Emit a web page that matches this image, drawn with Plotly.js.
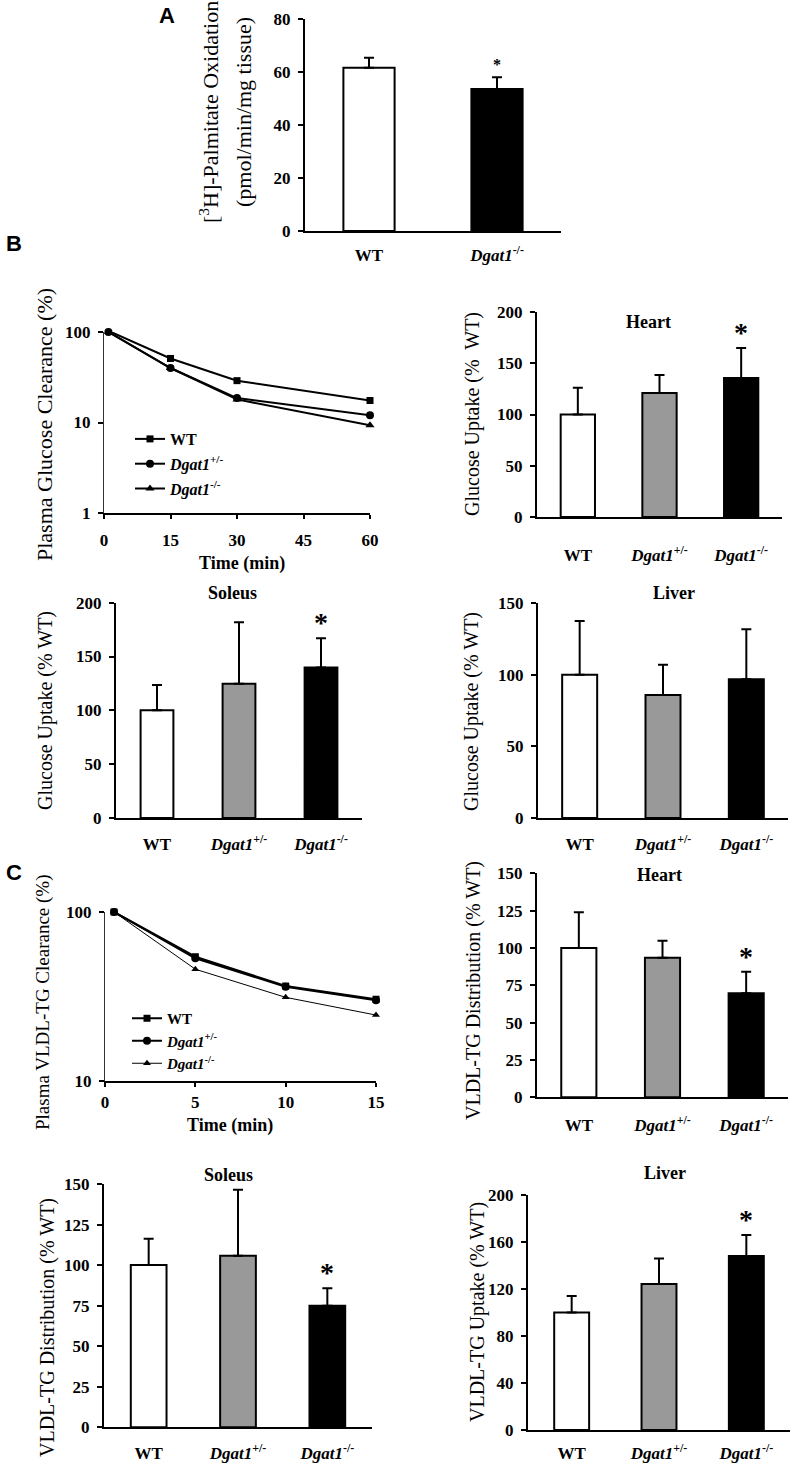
<!DOCTYPE html>
<html>
<head>
<meta charset="utf-8">
<script src="https://cdn.plot.ly/plotly-3.0.1.min.js"></script>
<style>
  body { margin: 0; background: #fff; }
  #plot { width: 797px; height: 1466px; }
</style>
</head>
<body>
<div id="plot"></div>
<script>
// ---- data ----
const genoCats = ['WT', 'Dgat1+/-', 'Dgat1-/-'];
const genoText = ['WT', '<i>Dgat1</i><sup>+/-</sup>', '<i>Dgat1</i><sup>-/-</sup>'];
const palmCats = ['WT', 'Dgat1-/-'];
const palmText = ['WT', '<i>Dgat1</i><sup>-/-</sup>'];
const barColors = ['white', '#999999', 'black'];

// A: palmitate oxidation
const palmVal = [61.6, 53.6];
const palmErr = [3.8, 4.4];

// B: glucose clearance (log)
const glcTime = [1, 15, 30, 60];
const glcWT = [103, 51, 29, 17.5];
const glcHet = [100, 40, 18.6, 12];
const glcKO = [100, 40, 18, 9.3];

// B: glucose uptake
const glcHeart = [100, 121, 135.6];
const glcHeartErr = [26, 17.5, 29.4];
const glcSoleus = [100, 124.8, 139.7];
const glcSoleusErr = [23.6, 57, 27.3];
const glcLiver = [100, 85.8, 96.8];
const glcLiverErr = [37.5, 21.2, 34.9];

// C: VLDL-TG clearance (log)
const tgTime = [0.5, 5, 10, 15];
const tgWT = [100, 54.3, 36.4, 30.4];
const tgHet = [100, 53.2, 36, 30];
const tgKO = [100, 45.8, 31.2, 24.5];

// C: VLDL-TG distribution / uptake
const tgHeart = [100, 93.5, 69.7];
const tgHeartErr = [23.9, 11.4, 14.4];
const tgSoleus = [100, 105.7, 74.9];
const tgSoleusErr = [16.2, 40.8, 10.9];
const tgLiver = [100, 124.3, 148];
const tgLiverErr = [14, 21.7, 18];

// ---- helpers ----
const W = 797, H = 1466;
const SERIF = 'Liberation Serif, Times New Roman, serif';
const px = v => v / W;
const py = v => 1 - v / H;
const ax = n => (n === 1 ? '' : String(n));

function barTrace(n, cats, vals, errs, width) {
  return {
    type: 'bar', x: cats, y: vals, width: width,
    xaxis: 'x' + ax(n), yaxis: 'y' + ax(n),
    marker: { color: cats.length === 2 ? ['white', 'black'] : barColors,
              line: { color: 'black', width: 2 } },
    error_y: { type: 'data', symmetric: false, array: errs, arrayminus: errs.map(() => 0),
               color: 'black', thickness: 2, width: 5 },
    showlegend: false, hoverinfo: 'skip'
  };
}

function lineTrace(n, x, y, name, symbol, size, lw, legend) {
  return {
    type: 'scatter', mode: 'lines+markers', x: x, y: y, name: name,
    xaxis: 'x' + n, yaxis: 'y' + n, legend: legend, legendgroup: legend + name,
    line: { color: 'black', width: lw },
    marker: { symbol: symbol, size: size, color: 'black' },
    cliponaxis: false, hoverinfo: 'skip'
  };
}

const tickFont = { family: SERIF, size: 17, weight: 'bold', color: 'black' };

function catAxis(n, x0, x1, cats, text, standoff) {
  return {
    domain: [px(x0), px(x1)], type: 'category', range: [-0.5, cats.length - 0.5],
    anchor: 'y' + ax(n),
    tickvals: cats, ticktext: text, ticks: '', showline: true, linecolor: 'black',
    linewidth: 2, showgrid: false, zeroline: false, tickfont: tickFont,
    ticklabelstandoff: standoff, fixedrange: true
  };
}

function valAxis(n, yBottom, yTop, range, dtick) {
  return {
    domain: [py(yBottom), py(yTop)], range: range, dtick: dtick, tick0: 0,
    anchor: 'x' + ax(n),
    ticks: 'outside', ticklen: 5, tickwidth: 2, tickcolor: 'black',
    showline: true, linecolor: 'black', linewidth: 2, showgrid: false, zeroline: false,
    tickfont: tickFont, ticklabelstandoff: 4, fixedrange: true
  };
}

function timeAxis(n, x0, x1, range, tickvals, standoff) {
  return {
    domain: [px(x0), px(x1)], range: range, tickvals: tickvals,
    anchor: 'y' + ax(n),
    ticks: 'outside', ticklen: 4, tickwidth: 2, tickcolor: 'black',
    showline: true, linecolor: 'black', linewidth: 2, showgrid: false, zeroline: false,
    tickfont: tickFont, ticklabelstandoff: standoff, fixedrange: true
  };
}

function logAxis(n, yBottom, yTop, range, tickvals) {
  return {
    domain: [py(yBottom), py(yTop)], type: 'log', range: range, tickvals: tickvals,
    ticktext: tickvals.map(String), anchor: 'x' + ax(n),
    ticks: 'outside', ticklen: 5, tickwidth: 2, tickcolor: 'black',
    showline: true, linecolor: '#333', linewidth: 1, showgrid: false, zeroline: false,
    tickfont: tickFont, ticklabelstandoff: 4, fixedrange: true
  };
}

function yTitle(x, y, text, size) {
  return { xref: 'paper', yref: 'paper', x: px(x), y: py(y), text: text, textangle: -90,
           showarrow: false, xanchor: 'center', yanchor: 'middle',
           font: { family: SERIF, size: size || 20, color: 'black' } };
}

function label(x, y, text, size, family) {
  return { xref: 'paper', yref: 'paper', x: px(x), y: py(y), text: text, showarrow: false,
           xanchor: 'center', yanchor: 'middle',
           font: { family: family || SERIF, size: size, weight: 'bold', color: 'black' } };
}

function star(n, cat, top, size) {
  return { xref: 'x' + ax(n), yref: 'y' + ax(n), x: cat, y: top,
           text: '*', showarrow: false, yanchor: 'bottom', yshift: size > 20 ? -2 : 2,
           font: { family: SERIF, size: size, weight: 'bold', color: 'black' } };
}

// ---- traces ----
const data = [
  barTrace(1, palmCats, palmVal, palmErr, 0.4),
  lineTrace(2, glcTime, glcWT, '<b>WT</b>', 'square', 7, 2, 'legend'),
  lineTrace(2, glcTime, glcHet, '<b><i>Dgat1</i><sup>+/-</sup></b>', 'circle', 8, 2, 'legend'),
  lineTrace(2, glcTime, glcKO, '<b><i>Dgat1</i><sup>-/-</sup></b>', 'triangle-up', 8, 2, 'legend'),
  barTrace(3, genoCats, glcHeart, glcHeartErr, 0.42),
  barTrace(4, genoCats, glcSoleus, glcSoleusErr, 0.4),
  barTrace(5, genoCats, glcLiver, glcLiverErr, 0.42),
  lineTrace(6, tgTime, tgWT, '<b>WT</b>', 'square', 7, 2, 'legend2'),
  lineTrace(6, tgTime, tgHet, '<b><i>Dgat1</i><sup>+/-</sup></b>', 'circle', 8, 2, 'legend2'),
  lineTrace(6, tgTime, tgKO, '<b><i>Dgat1</i><sup>-/-</sup></b>', 'triangle-up', 7, 1, 'legend2'),
  barTrace(7, genoCats, tgHeart, tgHeartErr, 0.42),
  barTrace(8, genoCats, tgSoleus, tgSoleusErr, 0.4),
  barTrace(9, genoCats, tgLiver, tgLiverErr, 0.4)
];

const layout = {
  width: W, height: H,
  margin: { l: 0, r: 0, t: 0, b: 0 },
  paper_bgcolor: 'white', plot_bgcolor: 'white',
  showlegend: true,
  font: { family: SERIF, color: 'black' },

  xaxis: catAxis(1, 305, 561, palmCats, palmText, 8),
  yaxis: valAxis(1, 231, 19, [0, 80], 20),

  xaxis2: timeAxis(2, 104, 370, [0, 60], [0, 15, 30, 45, 60], 7),
  yaxis2: logAxis(2, 513, 332, [0, 2], [1, 10, 100]),

  xaxis3: catAxis(3, 537, 782, genoCats, genoText, 22),
  yaxis3: valAxis(3, 517, 312, [0, 200], 50),

  xaxis4: catAxis(4, 116, 362, genoCats, genoText, 10),
  yaxis4: valAxis(4, 818, 602.7, [0, 200], 50),

  xaxis5: catAxis(5, 538, 788, genoCats, genoText, 10),
  yaxis5: valAxis(5, 818, 603, [0, 150], 50),

  xaxis6: timeAxis(6, 105, 376, [0, 15], [0, 5, 10, 15], 1),
  yaxis6: logAxis(6, 1080.7, 912, [1, 2], [10, 100]),

  xaxis7: catAxis(7, 537, 788, genoCats, genoText, 11),
  yaxis7: valAxis(7, 1097.3, 873.3, [0, 150], 25),

  xaxis8: catAxis(8, 104, 372, genoCats, genoText, 9),
  yaxis8: valAxis(8, 1427.3, 1184, [0, 150], 25),

  xaxis9: catAxis(9, 528, 790, genoCats, genoText, 7),
  yaxis9: valAxis(9, 1430, 1195, [0, 200], 40),

  legend: { x: px(130), y: py(422), xanchor: 'left', yanchor: 'top', bgcolor: 'rgba(0,0,0,0)',
            font: { family: SERIF, size: 16, color: 'black' },
            itemwidth: 30, tracegroupgap: 1, traceorder: 'grouped' },
  legend2: { x: px(127), y: py(1002), xanchor: 'left', yanchor: 'top', bgcolor: 'rgba(0,0,0,0)',
             font: { family: SERIF, size: 15, color: 'black' },
             itemwidth: 30, tracegroupgap: 0, traceorder: 'grouped' },

  annotations: [
    label(167, 16, 'A', 22, 'Liberation Sans, Arial, sans-serif'),
    label(14, 243, 'B', 22, 'Liberation Sans, Arial, sans-serif'),
    label(14, 872, 'C', 22, 'Liberation Sans, Arial, sans-serif'),

    yTitle(209, 112, '[<sup>3</sup>H]-Palmitate Oxidation', 22),
    yTitle(243, 112, '(pmol/min/mg tissue)', 22),
    yTitle(44, 425, 'Plasma Glucose Clearance (%)', 22),
    yTitle(472, 414, 'Glucose Uptake (%  WT)', 20),
    yTitle(45, 711, 'Glucose Uptake (% WT)', 20),
    yTitle(472, 712, 'Glucose Uptake (% WT)', 20),
    yTitle(43, 1002, 'Plasma VLDL-TG Clearance (%)', 19),
    yTitle(473, 990, 'VLDL-TG Distribution (% WT)', 20),
    yTitle(47, 1328, 'VLDL-TG Distribution (% WT)', 20),
    yTitle(477, 1312, 'VLDL-TG Uptake (% WT)', 20),

    label(242, 563, 'Time (min)', 18),
    label(230, 1125, 'Time (min)', 18),

    label(648, 322, 'Heart', 18),
    label(232, 593, 'Soleus', 18),
    label(674, 593, 'Liver', 18),
    label(659, 875, 'Heart', 18),
    label(228, 1175, 'Soleus', 18),
    label(665, 1173, 'Liver', 18),

    star(1, 'Dgat1-/-', palmVal[1] + palmErr[1], 16),
    star(3, 'Dgat1-/-', glcHeart[2] + glcHeartErr[2], 28),
    star(4, 'Dgat1-/-', glcSoleus[2] + glcSoleusErr[2], 28),
    star(7, 'Dgat1-/-', tgHeart[2] + tgHeartErr[2], 28),
    star(8, 'Dgat1-/-', tgSoleus[2] + tgSoleusErr[2], 28),
    star(9, 'Dgat1-/-', tgLiver[2] + tgLiverErr[2], 28)
  ]
};

Plotly.newPlot('plot', data, layout, { staticPlot: true, displayModeBar: false });
</script>
</body>
</html>
